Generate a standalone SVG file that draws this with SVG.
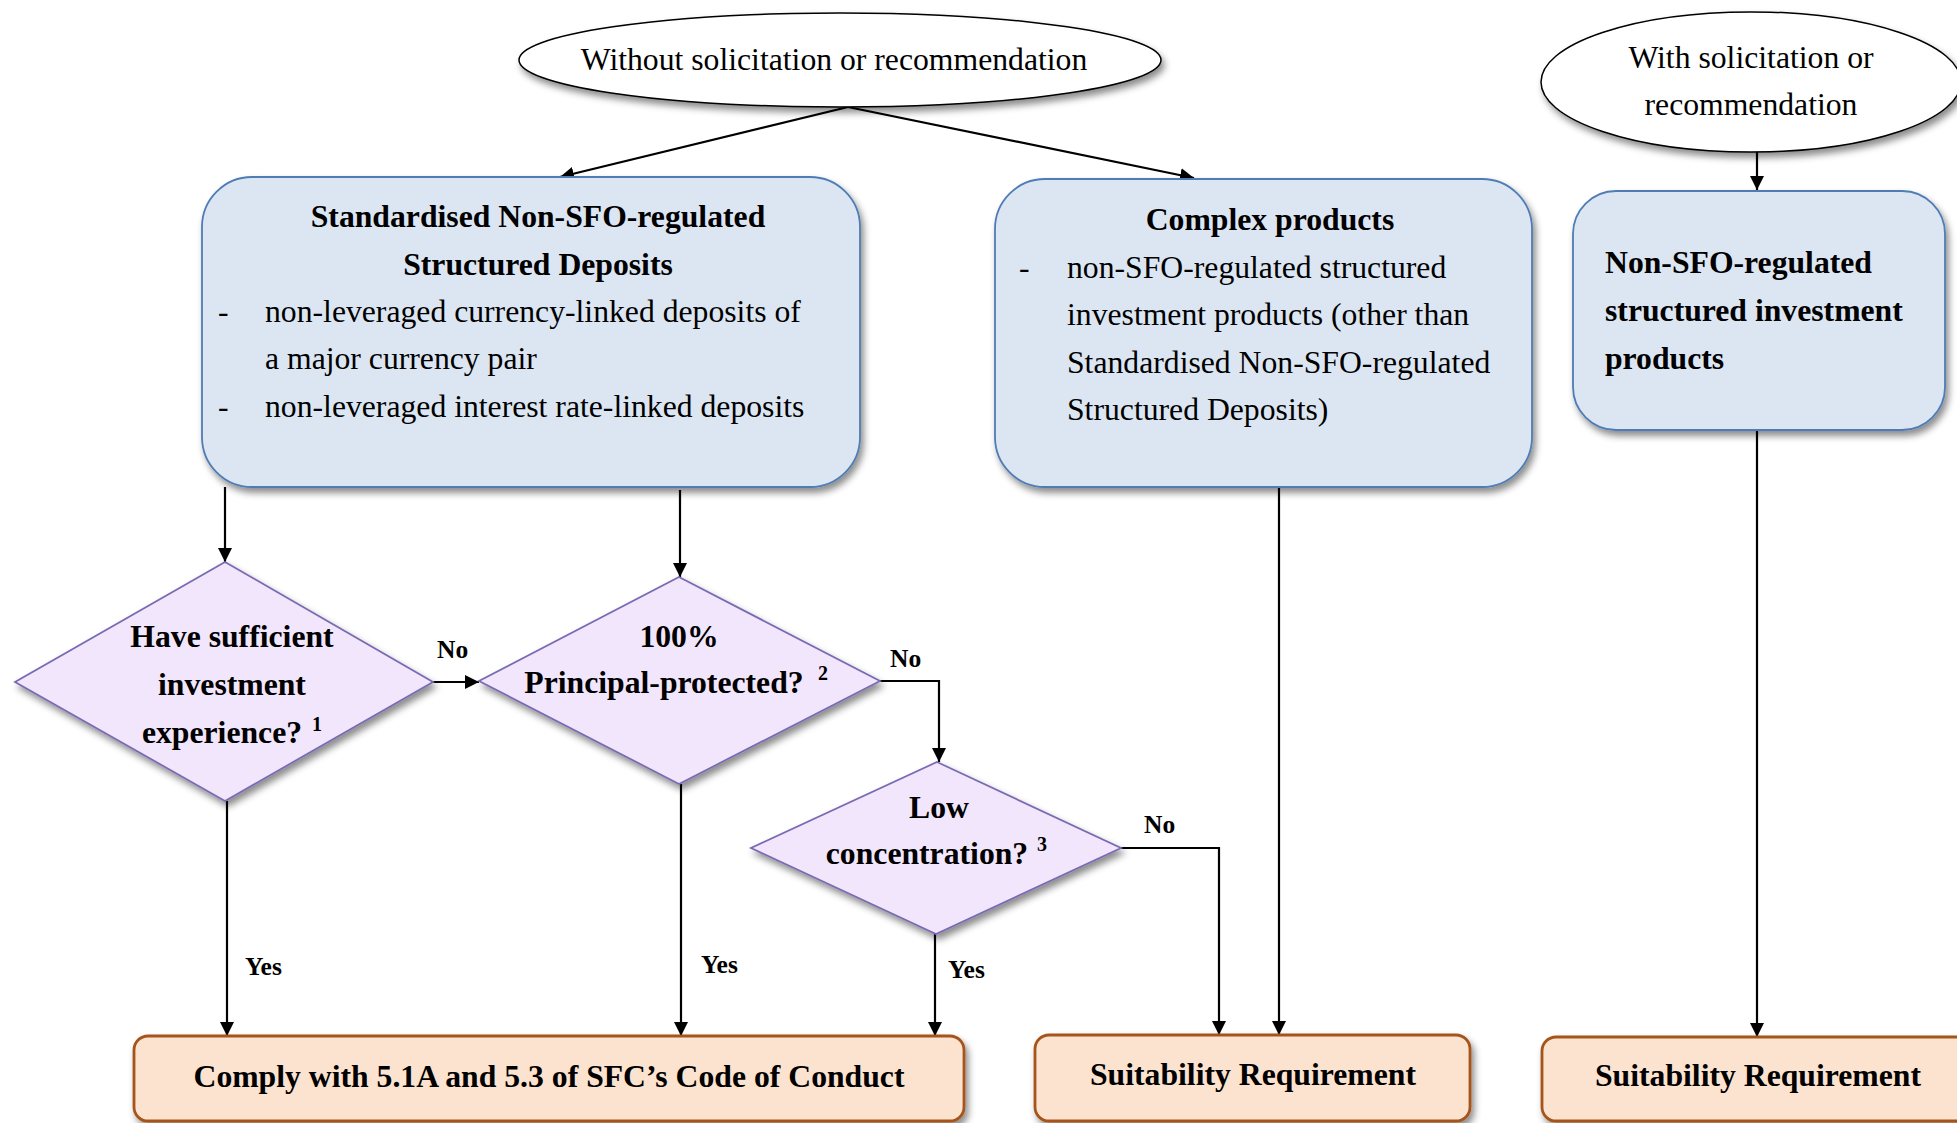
<svg xmlns="http://www.w3.org/2000/svg" width="1957" height="1123" viewBox="0 0 1957 1123">
<defs>
<filter id="sh" x="-10%" y="-10%" width="130%" height="140%">
<feDropShadow dx="3" dy="5" stdDeviation="3.5" flood-color="#000" flood-opacity="0.45"/>
</filter>
<marker id="arr" markerUnits="userSpaceOnUse" markerWidth="16" markerHeight="16" refX="14" refY="7" orient="auto">
<path d="M0,0 L14,7 L0,14 Z" fill="#000"/>
</marker>
<style>
text{font-family:"Liberation Serif","Times New Roman",serif;fill:#000}
.t{font-size:31.7px}
.b{font-size:31.7px;font-weight:bold}
.lb{font-size:25.5px;font-weight:bold}
.sup{font-size:20px;font-weight:bold}
.c{text-anchor:middle}
.ell{fill:#fff;stroke:#000;stroke-width:1.5;filter:url(#sh)}
.blue{fill:#DCE6F2;stroke:#4F7CB5;stroke-width:1.8;filter:url(#sh)}
.dia{fill:#F1E6FB;stroke:#7A6BB3;stroke-width:1.8;filter:url(#sh)}
.res{fill:#FCE3CF;stroke:#A5541A;stroke-width:2.8;filter:url(#sh)}
.con{fill:none;stroke:#000;stroke-width:2.2;marker-end:url(#arr)}
</style>
</defs>
<rect width="1957" height="1123" fill="#fff"/>

<g id="connectors">
<path class="con" d="M848,107 L560,177"/>
<path class="con" d="M848,107 L1194,178"/>
<path class="con" d="M1757,152 L1757,190"/>
<path class="con" d="M225,487 L225,562"/>
<path class="con" d="M680,490 L680,577"/>
<path class="con" d="M433,682 L479,682"/>
<path class="con" d="M880,681 L939,681 L939,762"/>
<path class="con" d="M1121,848 L1219,848 L1219,1035"/>
<path class="con" d="M227,801 L227,1036"/>
<path class="con" d="M681,784 L681,1036"/>
<path class="con" d="M935,934 L935,1036"/>
<path class="con" d="M1279,487 L1279,1035"/>
<path class="con" d="M1757,430 L1757,1037"/>
<text class="lb" x="437" y="658">No</text>
<text class="lb" x="890" y="667">No</text>
<text class="lb" x="1144" y="833">No</text>
<text class="lb" x="245" y="975">Yes</text>
<text class="lb" x="701" y="973">Yes</text>
<text class="lb" x="948" y="978">Yes</text>
</g>

<g id="without">
<ellipse class="ell" cx="840" cy="60" rx="321" ry="47"/>
<text class="t c" x="834" y="70">Without solicitation or recommendation</text>
</g>

<g id="with">
<ellipse class="ell" cx="1751" cy="82" rx="210" ry="70"/>
<text class="t c" x="1751" y="68">With solicitation or</text>
<text class="t c" x="1751" y="115">recommendation</text>
</g>

<g id="standardised">
<rect class="blue" x="202" y="177" width="658" height="310" rx="50" ry="50"/>
<text class="b c" x="538" y="227">Standardised Non-SFO-regulated</text>
<text class="b c" x="538" y="275">Structured Deposits</text>
<text class="t" x="218" y="322">-</text>
<text class="t" x="265" y="322">non-leveraged currency-linked deposits of</text>
<text class="t" x="265" y="369">a major currency pair</text>
<text class="t" x="218" y="417">-</text>
<text class="t" x="265" y="417">non-leveraged interest rate-linked deposits</text>
</g>

<g id="complex">
<rect class="blue" x="995" y="179" width="537" height="308" rx="50" ry="50"/>
<text class="b c" x="1270" y="230">Complex products</text>
<text class="t" x="1019" y="278">-</text>
<text class="t" x="1067" y="278">non-SFO-regulated structured</text>
<text class="t" x="1067" y="325">investment products (other than</text>
<text class="t" x="1067" y="373">Standardised Non-SFO-regulated</text>
<text class="t" x="1067" y="420">Structured Deposits)</text>
</g>

<g id="nonsfo">
<rect class="blue" x="1573" y="191" width="372" height="239" rx="43" ry="43"/>
<text class="b" x="1605" y="273">Non-SFO-regulated</text>
<text class="b" x="1605" y="321">structured investment</text>
<text class="b" x="1605" y="369">products</text>
</g>

<g id="experience">
<polygon class="dia" points="225,562 433,682 225,801 15,682"/>
<text class="b c" x="232" y="647">Have sufficient</text>
<text class="b c" x="232" y="695">investment</text>
<text class="b c" x="222" y="743">experience?</text>
<text class="sup" x="312" y="731">1</text>
</g>

<g id="protected">
<polygon class="dia" points="679,577 880,681 679,784 479,681"/>
<text class="b c" x="679" y="647">100%</text>
<text class="b c" x="664" y="693">Principal-protected?</text>
<text class="sup" x="818" y="680">2</text>
</g>

<g id="concentration">
<polygon class="dia" points="937,762 1121,848 936,934 751,848"/>
<text class="b c" x="939" y="818">Low</text>
<text class="b c" x="927" y="864">concentration?</text>
<text class="sup" x="1037" y="851">3</text>
</g>

<g id="comply">
<rect class="res" x="134" y="1036" width="830" height="85" rx="14" ry="14"/>
<text class="b c" x="549" y="1087">Comply with 5.1A and 5.3 of SFC’s Code of Conduct</text>
</g>

<g id="suit1">
<rect class="res" x="1035" y="1035" width="435" height="86" rx="14" ry="14"/>
<text class="b c" x="1253" y="1085">Suitability Requirement</text>
</g>

<g id="suit2">
<rect class="res" x="1542" y="1037" width="440" height="84" rx="14" ry="14"/>
<text class="b c" x="1758" y="1086">Suitability Requirement</text>
</g>
</svg>
